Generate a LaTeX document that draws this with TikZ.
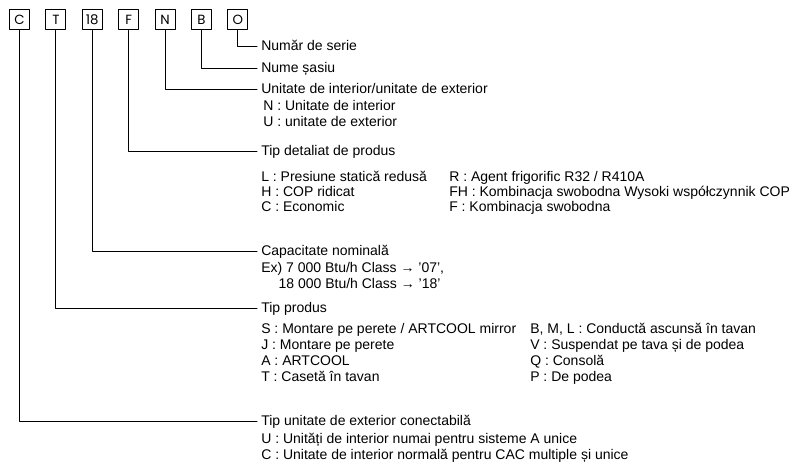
\documentclass[tikz,border=0pt]{standalone}
\usepackage{fontspec}
\setmainfont{Liberation Sans}
\newfontfamily\boxfont{Poppins}
\usetikzlibrary{positioning}

\begin{document}
\begin{tikzpicture}[x=0.75pt,y=-0.75pt,line cap=round,line join=round,
    codebox/.style={draw,line width=0.75pt,minimum width=15pt,minimum height=15pt,inner sep=0pt,font=\boxfont\fontsize{10}{10}\selectfont},
    lbl/.style={anchor=west,inner sep=3pt,text height=0.72em,text depth=0.12em,font=\fontsize{10.5}{12}\selectfont},
    detail/.style={anchor=north west,align=left,inner sep=0pt,font=\fontsize{10.5}{12}\selectfont},
    lead/.style={line width=0.75pt}]
    \useasboundingbox (0,0) rectangle (795,466);
    % code letters
    \foreach \name/\txt [count=\i from 0] in {c/C,t/T,cap/18,f/F,n/N,b/B,o/O}
        \node[codebox] (\name) at (19.5+36.4*\i,20) {\txt};
    % titles
    \node[lbl] (serial) at (257,47) {Număr de serie};
    \node[lbl] (chassis) at (257,69) {Nume șasiu};
    \node[lbl] (unit) at (257,90) {Unitate de interior/unitate de exterior};
    \node[lbl] (detail) at (257,152) {Tip detaliat de produs};
    \node[lbl] (capacity) at (257,252) {Capacitate nominală};
    \node[lbl] (product) at (257,309) {Tip produs};
    \node[lbl] (outdoor) at (257,421) {Tip unitate de exterior conectabilă};
    % leads
    \draw[lead] (o.south) |- (serial.west);
    \draw[lead] (b.south) |- (chassis.west);
    \draw[lead] (n.south) |- (unit.west);
    \draw[lead] (f.south) |- (detail.west);
    \draw[lead] (cap.south) |- (capacity.west);
    \draw[lead] (t.south) |- (product.west);
    \draw[lead] (c.south) |- (outdoor.west);
    % explanations
    \node[detail] (unitA) at (263,100) {N : Unitate de interior\\U : unitate de exterior};
    \node[detail,font=\fontsize{10.5}{11.4}\selectfont] (detailA) at (261,171) {L : Presiune statică redusă\\H : COP ridicat\\C : Economic};
    \node[detail,font=\fontsize{10.5}{11.4}\selectfont] (detailB) at (449,171) {R : Agent frigorific R32 / R410A\\FH : Kombinacja swobodna Wysoki współczynnik COP\\F : Kombinacja swobodna};
    \node[detail] (capacityA) at (261,262) {Ex) 7 000 Btu/h Class → '07',\\\hspace*{13pt}18 000 Btu/h Class → '18'};
    \node[detail] (productA) at (261,323) {S : Montare pe perete / ARTCOOL mirror\\J : Montare pe perete\\A : ARTCOOL\\T : Casetă în tavan};
    \node[detail] (productB) at (530,323) {B, M, L : Conductă ascunsă în tavan\\V : Suspendat pe tava și de podea\\Q : Consolă\\P : De podea};
    \node[detail] (outdoorA) at (261,433) {U : Unități de interior numai pentru sisteme A unice\\C : Unitate de interior normală pentru CAC multiple și unice};
\end{tikzpicture}
\end{document}
